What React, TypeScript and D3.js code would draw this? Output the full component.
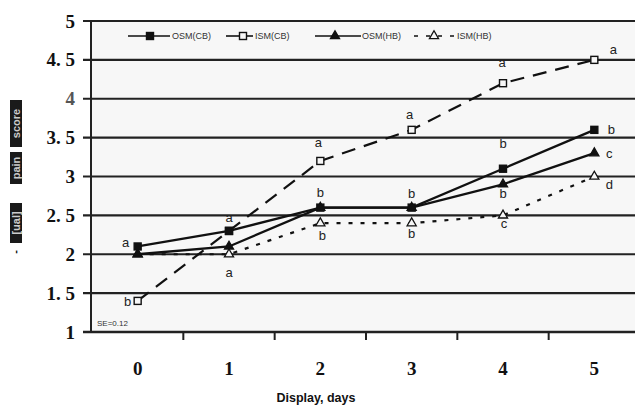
import React from "react";
import * as d3 from "d3";

const days = ["0", "1", "2", "3", "4", "5"];
const yTicks = [1, 1.5, 2, 2.5, 3, 3.5, 4, 4.5, 5];
const yTickLabels = ["1", "1. 5", "2", "2. 5", "3", "3. 5", "4", "4. 5", "5"];

const osmCB = [2.1, 2.3, 2.6, 2.6, 3.1, 3.6];
const ismCB = [1.4, 2.3, 3.2, 3.6, 4.2, 4.5];
const osmHB = [2.0, 2.1, 2.6, 2.6, 2.9, 3.3];
const ismHB = [2.0, 2.0, 2.4, 2.4, 2.5, 3.0];

const osmCBLetters = ["a", "a", "b", "b", "b", "b"];
const ismCBLetters = ["b", "", "a", "a", "a", "a"];
const osmHBLetters = ["", "", "", "", "b", "c"];
const ismHBLetters = ["", "a", "b", "b", "c", "d"];

const seriesNames = ["OSM(CB)", "ISM(CB)", "OSM(HB)", "ISM(HB)"];

// layout offsets for letters (dx, dy) relative to the point
const osmCBOff = [[-12, -4], [0, -13], [0, -15], [0, -14], [0, -25], [17, 0]];
const ismCBOff = [[-10, 1], [0, 0], [-2, -18], [-2, -15], [-1, -21], [19, -10]];
const osmHBOff = [[0, 0], [0, 0], [0, 0], [0, 0], [0, 9], [15, 0]];
const ismHBOff = [[0, 0], [0, 18], [2, 12], [0, 10], [1, 8], [15, 8]];

const W = 635;
const H = 409;

export default function App() {
  const x = d3.scaleBand<string>().domain(days).range([92, 640]);
  const y = d3.scaleLinear().domain([1, 5]).range([332, 21]);
  const cx = (i: number) => (x(days[i]) as number) + x.bandwidth() / 2;
  const line = (vals: number[]) =>
    d3.line<number>().x((_, i) => cx(i)).y((v) => y(v))(vals) as string;

  const bg = "#f7f7f7";
  const sq = (px: number, py: number, filled: boolean, k: string) => (
    <rect key={k} x={px - 3.5} y={py - 3.5} width={7} height={7}
      fill={filled ? "#111" : bg} stroke="#111" strokeWidth={1.4} />
  );
  const tri = (px: number, py: number, filled: boolean, k: string) => (
    <path key={k} d={d3.symbol().type(d3.symbolTriangle).size(36)() as string}
      transform={`translate(${px},${py})`}
      fill={filled ? "#111" : bg} stroke="#111" strokeWidth={1.3} />
  );

  const letters = (vals: number[], ls: string[], off: number[][], k: string) =>
    ls.map((l, i) =>
      l ? (
        <text key={k + i} x={cx(i) + off[i][0]} y={y(vals[i]) + off[i][1]}
          fontFamily="Arial, 'Liberation Sans', sans-serif" fontSize={13}
          fill="#222" textAnchor="middle" dominantBaseline="central">{l}</text>
      ) : null
    );

  const serif = "'Liberation Serif', 'DejaVu Serif', serif";
  const sans = "Arial, 'Liberation Sans', sans-serif";

  return (
    <svg width={W} height={H} style={{ position: "absolute", left: 0, top: 0, background: "#fff" }}>
      {/* plot background */}
      <rect x={92} y={21} width={W - 92} height={311} fill={bg} />

      {/* gridlines */}
      {yTicks.map((t) => (
        <line key={"g" + t} x1={83} x2={W} y1={y(t)} y2={y(t)} stroke="#222" strokeWidth={t === 1 ? 2.6 : 2.2} />
      ))}
      {/* y axis */}
      <line x1={91} x2={91} y1={y(5)} y2={y(1)} stroke="#222" strokeWidth={2} />
      {/* x ticks at band boundaries */}
      {days.slice(1).map((d) => (
        <line key={"xt" + d} x1={x(d) as number} x2={x(d) as number} y1={y(1)} y2={y(1) + 8} stroke="#222" strokeWidth={2} />
      ))}

      {/* y tick labels */}
      {yTicks.map((t, i) => (
        <text key={"yl" + t} x={75} y={y(t)} textAnchor="end" dominantBaseline="central"
          fontFamily={serif} fontWeight="bold" fontSize={19} fill={t === 4 ? "#555" : "#111"}>
          {yTickLabels[i]}
        </text>
      ))}
      {/* x tick labels */}
      {days.map((d, i) => (
        <text key={"xl" + d} x={cx(i)} y={368} textAnchor="middle" dominantBaseline="central"
          fontFamily={serif} fontWeight="bold" fontSize={19} fill="#111">{d}</text>
      ))}
      <text x={316} y={398} textAnchor="middle" dominantBaseline="central"
        fontFamily={sans} fontWeight="bold" fontSize={12.5} fill="#111">Display, days</text>

      {/* y axis title (scanned, boxed words) */}
      <g>
        <rect x={10} y={100} width={12} height={47} fill="#1a1a1a" />
        <rect x={10} y={152} width={12} height={32} fill="#1a1a1a" />
        <rect x={10} y={203} width={12} height={40} fill="#1a1a1a" />
        <text transform="translate(16,123.5) rotate(-90)" textAnchor="middle" dominantBaseline="central"
          fontFamily={sans} fontWeight="bold" fontSize={11} fill="#ccc">score</text>
        <text transform="translate(16,168) rotate(-90)" textAnchor="middle" dominantBaseline="central"
          fontFamily={sans} fontWeight="bold" fontSize={11} fill="#ccc">pain</text>
        <text transform="translate(16,223) rotate(-90)" textAnchor="middle" dominantBaseline="central"
          fontFamily={sans} fontWeight="bold" fontSize={11} fill="#ccc">[ual]</text>
        <text transform="translate(15,252) rotate(-90)" textAnchor="middle" dominantBaseline="central"
          fontFamily={sans} fontWeight="bold" fontSize={11} fill="#111">-</text>
      </g>

      <text x={97} y={326} fontFamily={sans} fontSize={8} fill="#333">SE=0.12</text>

      {/* series lines */}
      <path d={line(ismCB)} fill="none" stroke="#111" strokeWidth={2.2} strokeDasharray="14 9" />
      <path d={line(ismHB)} fill="none" stroke="#111" strokeWidth={2.2} strokeDasharray="4 8" />
      <path d={line(osmHB)} fill="none" stroke="#111" strokeWidth={2.3} />
      <path d={line(osmCB)} fill="none" stroke="#111" strokeWidth={2.3} />

      {/* markers */}
      {ismCB.map((v, i) => sq(cx(i), y(v), false, "ic" + i))}
      {ismHB.map((v, i) => tri(cx(i), y(v), false, "ih" + i))}
      {osmHB.map((v, i) => tri(cx(i), y(v), true, "oh" + i))}
      {osmCB.map((v, i) => sq(cx(i), y(v), true, "oc" + i))}

      {/* letters */}
      {letters(osmCB, osmCBLetters, osmCBOff, "lo")}
      {letters(ismCB, ismCBLetters, ismCBOff, "li")}
      {letters(osmHB, osmHBLetters, osmHBOff, "lh")}
      {letters(ismHB, ismHBLetters, ismHBOff, "lj")}

      {/* legend */}
      <g fontFamily={sans} fontSize={9} fill="#333">
        <line x1={128} x2={170} y1={36} y2={36} stroke="#111" strokeWidth={1.6} />
        {sq(150, 36, true, "lg1")}
        <text x={172} y={36} dominantBaseline="central">{seriesNames[0]}</text>
        <line x1={226} x2={253} y1={36} y2={36} stroke="#111" strokeWidth={1.6} />
        {sq(243, 36, false, "lg2")}
        <text x={255} y={36} dominantBaseline="central">{seriesNames[1]}</text>
        <line x1={315} x2={361} y1={36} y2={36} stroke="#111" strokeWidth={1.6} />
        {tri(335, 36, true, "lg3")}
        <text x={362} y={36} dominantBaseline="central">{seriesNames[2]}</text>
        <line x1={414} x2={454} y1={36} y2={36} stroke="#111" strokeWidth={1.6} strokeDasharray="4 8" />
        {tri(434, 36, false, "lg4")}
        <text x={457} y={36} dominantBaseline="central">{seriesNames[3]}</text>
      </g>
    </svg>
  );
}
